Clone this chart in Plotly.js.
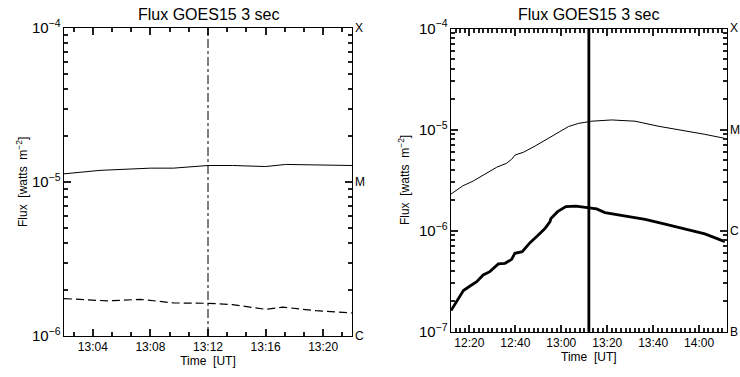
<!DOCTYPE html>
<html>
<head>
<meta charset="utf-8">
<script src="https://cdn.plot.ly/plotly-3.0.1.min.js"></script>
<style>html,body{margin:0;padding:0;background:#fff;}#chart{width:740px;height:377px;}</style>
</head>
<body>
<div id="chart"></div>
<script>
// ---------- data ----------
const day = '2013-05-13 ';
const chartTitle = 'Flux GOES15 3 sec';
const yTitle = 'Flux  [watts  m<sup>−2</sup>]';
const xTitle = 'Time  [UT]';
const markTime = '13:12';

// left panel (zoom)
const leftTimesLong = ['13:02','13:04:30','13:08','13:09:36','13:12','13:13:42','13:16','13:17:24','13:22'];
const leftLong = [1.13e-5,1.19e-5,1.23e-5,1.23e-5,1.28e-5,1.28e-5,1.26e-5,1.30e-5,1.28e-5];
const leftTimesShort = ['13:02','13:05','13:07:18','13:09:36','13:12','13:13:42','13:16','13:17:12','13:19:30','13:22'];
const leftShort = [1.75e-6,1.69e-6,1.73e-6,1.64e-6,1.63e-6,1.60e-6,1.49e-6,1.54e-6,1.46e-6,1.41e-6];
const leftRange = ['13:02','13:22'];

// right panel (full event)
const rightTimesLong = ['12:12','12:17:06','12:21:42','12:26:48','12:31:54','12:36:12','12:38:24','12:39:54','12:43:30','12:48:36','12:53','12:58:42','13:03:06','13:07:24','13:12:30','13:13:12','13:21:54','13:32:06','13:42:12','13:53:48','14:02:30','14:11:12'];
const rightLong = [2.30e-6,2.77e-6,3.10e-6,3.63e-6,4.24e-6,4.64e-6,5.08e-6,5.60e-6,5.96e-6,6.87e-6,7.88e-6,9.39e-6,1.07e-5,1.15e-5,1.21e-5,1.21e-5,1.245e-5,1.21e-5,1.08e-5,9.75e-6,8.97e-6,8.18e-6];
const rightTimesShort = ['12:12','12:14:30','12:17:24','12:20:18','12:23:12','12:26','12:28:54','12:32:36','12:35:30','12:38:24','12:39:48','12:43','12:46:24','12:50','12:52:54','12:55:06','12:55:30','12:58:24','13:02','13:06:24','13:10','13:13','13:15:24','13:19','13:27:48','13:36:30','13:45:12','13:53:48','14:02:30','14:11:12'];
const rightShort = [1.62e-7,1.98e-7,2.55e-7,2.83e-7,3.12e-7,3.64e-7,3.93e-7,4.68e-7,4.75e-7,5.20e-7,5.97e-7,6.19e-7,7.60e-7,9.06e-7,1.05e-6,1.23e-6,1.32e-6,1.54e-6,1.73e-6,1.75e-6,1.70e-6,1.66e-6,1.64e-6,1.51e-6,1.40e-6,1.29e-6,1.16e-6,1.03e-6,9.27e-7,7.79e-7];
const rightRange = ['12:12','14:12'];

const goesClasses = ['X','M','C','B'];
const goesLevels = [1e-4,1e-5,1e-6,1e-7];
const leftYRange = [1e-6, 1e-4];
const rightYRange = [1e-7, 1e-4];

// ---------- build ----------
const T = a => a.map(t => day + (t.length === 5 ? t + ':00' : t));
const FONT = 'Liberation Sans, Arial, sans-serif';
const black = '#000';
const tickCol = '#222';
const noGrid = 'rgba(0,0,0,0)';

const traces = [
  {x: T(leftTimesLong), y: leftLong, xaxis:'x', yaxis:'y', mode:'lines', line:{color:black, width:1}, hoverinfo:'skip'},
  {x: T(leftTimesShort), y: leftShort, xaxis:'x', yaxis:'y', mode:'lines', line:{color:black, width:1.2, dash:'8px,4px'}, hoverinfo:'skip'},
  {x: T(rightTimesLong), y: rightLong, xaxis:'x2', yaxis:'y2', mode:'lines', line:{color:black, width:1}, hoverinfo:'skip'},
  {x: T(rightTimesShort), y: rightShort, xaxis:'x2', yaxis:'y2', mode:'lines', line:{color:black, width:2.8}, hoverinfo:'skip'},
  {x: [], y: [], xaxis:'x3', yaxis:'y3', mode:'lines', hoverinfo:'skip'},
  {x: [], y: [], xaxis:'x4', yaxis:'y4', mode:'lines', hoverinfo:'skip'}
];

const xCommon = {
  type:'date', tickformat:'%H:%M', showgrid:true, gridcolor:noGrid,
  showline:true, linecolor:black, mirror:'ticks',
  ticks:'inside', ticklen:7, tickcolor:tickCol, tickwidth:2,
  tickfont:{family:FONT, size:12, color:black},
  title:{text:xTitle, font:{family:FONT, size:12, color:black}, standoff:1}
};
const yCommon = {
  type:'log', dtick:1, exponentformat:'power', showgrid:true, gridcolor:noGrid,
  showline:true, linecolor:black, mirror:'ticks',
  ticks:'inside', ticklen:7, tickcolor:tickCol, tickwidth:2,
  tickfont:{family:FONT, size:12, color:black}
};
const minorX = {type:'date', showgrid:true, gridcolor:noGrid, showticklabels:false,
  mirror:'ticks', ticks:'inside', ticklen:4, tickcolor:tickCol, tickwidth:2};
const minorY = {type:'log', dtick:'D1', showgrid:true, gridcolor:noGrid, showticklabels:false,
  mirror:'ticks', ticks:'inside', ticklen:4, tickcolor:tickCol, tickwidth:2};

const dL = [64/740, 352/740], dR = [451/740, 726.7/740];
const yL = [1-336/377, 1-28/377], yR = [1-331.7/377, 1-28.5/377];

const layout = {
  width:740, height:377, margin:{l:0, r:0, t:0, b:0}, showlegend:false,
  xaxis: Object.assign({}, xCommon, {domain:dL, anchor:'y', range:T(leftRange), tick0: day + '13:00:00', dtick: 240000}),
  yaxis: Object.assign({}, yCommon, {domain:yL, anchor:'x', range:leftYRange.map(Math.log10)}),
  xaxis2: Object.assign({}, xCommon, {domain:dR, anchor:'y2', range:T(rightRange), tick0: day + '12:00:00', dtick: 1200000}),
  yaxis2: Object.assign({}, yCommon, {domain:yR, anchor:'x2', range:rightYRange.map(Math.log10)}),
  xaxis3: Object.assign({}, minorX, {overlaying:'x', anchor:'y3', range:T(leftRange), tick0: day + '13:00:00', dtick: 80000}),
  yaxis3: Object.assign({}, minorY, {overlaying:'y', anchor:'x3', range:leftYRange.map(Math.log10)}),
  xaxis4: Object.assign({}, minorX, {overlaying:'x2', anchor:'y4', range:T(rightRange), tick0: day + '12:00:00', dtick: 120000}),
  yaxis4: Object.assign({}, minorY, {overlaying:'y2', anchor:'x4', range:rightYRange.map(Math.log10)}),
  shapes:[
    {type:'line', xref:'x', yref:'y domain', x0:T([markTime])[0], x1:T([markTime])[0], y0:0, y1:1, line:{color:black, width:1, dash:'dashdot'}},
    {type:'line', xref:'x2', yref:'y2 domain', x0:T([markTime])[0], x1:T([markTime])[0], y0:0, y1:1, line:{color:black, width:2.8}}
  ],
  annotations:[]
};

[['x','y',leftYRange,22],['x2','y2',rightYRange,404]].forEach(([xa, ya, yr, tx]) => {
  layout.annotations.push({text:chartTitle, xref:xa+' domain', yref:ya+' domain', x:0.5, y:1, yshift:3,
    xanchor:'center', yanchor:'bottom', showarrow:false, font:{family:FONT, size:16, color:black}});
  layout.annotations.push({text:yTitle, xref:'paper', yref:ya+' domain', x:tx/740, y:0.5, textangle:-90,
    xanchor:'center', yanchor:'middle', showarrow:false, font:{family:FONT, size:12, color:black}});
  goesClasses.forEach((c, i) => {
    const v = goesLevels[i];
    if (v < yr[0] || v > yr[1]) return;
    layout.annotations.push({text:c, xref:xa+' domain', yref:ya, x:1, y:Math.log10(v), xshift:1,
      xanchor:'left', yanchor:'middle', showarrow:false, font:{family:FONT, size:12, color:black}});
  });
});

Plotly.newPlot('chart', traces, layout, {staticPlot:true});
</script>
</body>
</html>
